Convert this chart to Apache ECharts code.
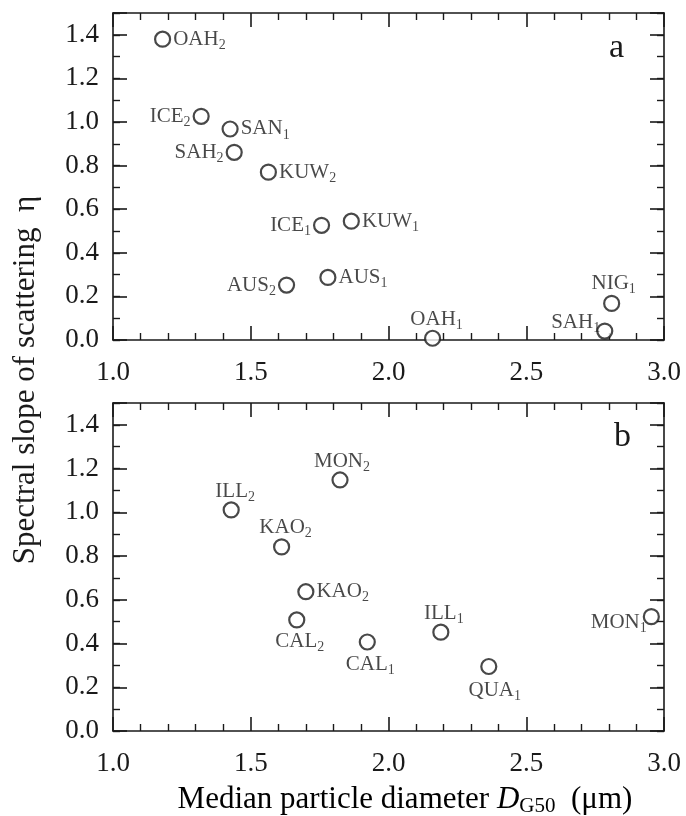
<!DOCTYPE html>
<html>
<head>
<meta charset="utf-8">
<script src="https://cdn.jsdelivr.net/npm/echarts@6/dist/echarts.min.js"></script>
<style>
html,body{margin:0;padding:0;background:#fff;}
#chart{width:686px;height:816px;}
</style>
</head>
<body>
<div id="chart"></div>
<script>
// ---------- data ----------
const xTicks = [1.0, 1.5, 2.0, 2.5, 3.0];
const yTicks = [0.0, 0.2, 0.4, 0.6, 0.8, 1.0, 1.2, 1.4];
const yMax = 1.5;

// panel a
const namesA = ['OAH', 'ICE', 'SAN', 'SAH', 'KUW', 'ICE', 'KUW', 'AUS', 'AUS', 'OAH', 'SAH', 'NIG'];
const subsA  = ['2', '2', '1', '2', '2', '1', '1', '2', '1', '1', '1', '1'];
const xA = [1.18, 1.32, 1.425, 1.44, 1.564, 1.757, 1.865, 1.63, 1.78, 2.16, 2.785, 2.81];
const yA = [1.38, 1.026, 0.968, 0.861, 0.770, 0.526, 0.545, 0.252, 0.287, 0.008, 0.041, 0.168];

// panel b
const namesB = ['MON', 'ILL', 'KAO', 'KAO', 'CAL', 'CAL', 'ILL', 'QUA', 'MON'];
const subsB  = ['2', '2', '2', '2', '2', '1', '1', '1', '1'];
const xB = [1.824, 1.429, 1.612, 1.70, 1.667, 1.923, 2.19, 2.364, 2.954];
const yB = [1.148, 1.011, 0.842, 0.637, 0.508, 0.407, 0.452, 0.295, 0.523];

// ---------- label placement (style) ----------
const placeA = [
  {p:'right', d:2}, {p:'left', d:2}, {p:'right', d:2}, {p:'left', d:2},
  {p:'right', d:2}, {p:'left', d:2}, {p:'right', d:2}, {p:'left', d:2},
  {p:'right', d:2}, {p:'top', d:-3, o:[4,0]}, {p:'left', d:-4, o:[0,-9]}, {p:'top', d:-2, o:[2,0]}
];
const placeB = [
  {p:'top', d:-3, o:[2,0]}, {p:'top', d:-3, o:[4,0]}, {p:'top', d:-2, o:[4,0]}, {p:'right', d:2},
  {p:'bottom', d:0, o:[3,0]}, {p:'bottom', d:1, o:[3,0]}, {p:'top', d:-3, o:[3,0]}, {p:'bottom', d:2, o:[6,0]},
  {p:'left', d:-4, o:[0,6]}
];

// ---------- styles ----------
const FONT = "'Liberation Serif','Times New Roman',serif";
const INK = '#1a1a1a';
const richLbl = {
  n: {fontFamily: FONT, fontSize: 21, color: INK, lineHeight: 26},
  s: {fontFamily: FONT, fontSize: 14, color: INK, lineHeight: 14, verticalAlign: 'bottom'}
};

function buildData(xs, ys, names, subs, place) {
  return xs.map((x, i) => ({
    value: [x, ys[i]],
    label: {
      show: true,
      position: place[i].p,
      distance: place[i].d,
      offset: place[i].o || [0, 0],
      formatter: '{n|' + names[i] + '}{s|' + subs[i] + '}',
      rich: richLbl
    }
  }));
}

const gridsRect = [
  {left: 113, top: 13, width: 551, height: 327},
  {left: 113, top: 403, width: 551, height: 328}
];

const grid = [];
const xAxis = [];
const yAxis = [];
const lineStyle = {color: INK, width: 1.6};

gridsRect.forEach((r, gi) => {
  grid.push(Object.assign({containLabel: false}, r));
  grid.push(Object.assign({containLabel: false}, r));
  const gMaj = 2 * gi, gMin = 2 * gi + 1;
  ['bottom', 'top'].forEach(pos => {
    xAxis.push({
      type: 'value', gridIndex: gMaj, position: pos,
      min: xTicks[0], max: xTicks[xTicks.length - 1], interval: xTicks[1] - xTicks[0],
      axisLine: {show: true, onZero: false, lineStyle},
      axisTick: {show: true, inside: true, length: 14, lineStyle},
      minorTick: {show: true, splitNumber: 5, length: 7, lineStyle: {color: INK, width: 1.4}},
      splitLine: {show: false},
      axisLabel: {
        show: pos === 'bottom', margin: 19, fontFamily: FONT, fontSize: 27, color: INK,
        formatter: v => v.toFixed(1)
      }
    });
    xAxis.push({
      type: 'value', gridIndex: gMin, position: pos, show: false,
      min: xTicks[0], max: xTicks[xTicks.length - 1]
    });
  });
  ['left', 'right'].forEach(pos => {
    yAxis.push({
      type: 'value', gridIndex: gMaj, position: pos,
      min: yTicks[0], max: yMax, interval: yTicks[1] - yTicks[0],
      axisLine: {show: true, onZero: false, lineStyle},
      axisTick: {show: true, inside: true, length: 14, lineStyle},
      splitLine: {show: false},
      axisLabel: {
        show: pos === 'left', margin: 14, fontFamily: FONT, fontSize: 27, color: INK,
        formatter: v => (Math.abs(v - yMax) < 1e-6 ? '' : v.toFixed(1))
      }
    });
    yAxis.push({
      type: 'value', gridIndex: gMin, position: pos,
      min: yTicks[0], max: yMax, interval: (yTicks[1] - yTicks[0]) / 2,
      axisLine: {show: false},
      axisTick: {show: true, inside: true, length: 7, lineStyle: {color: INK, width: 1.4}},
      splitLine: {show: false},
      axisLabel: {show: false}
    });
  });
});

const symbolStyle = {color: '#fff', borderColor: INK, borderWidth: 2.2};

const series = [
  {
    type: 'scatter', xAxisIndex: 0, yAxisIndex: 0,
    symbol: 'circle', symbolSize: 15, itemStyle: symbolStyle,
    data: buildData(xA, yA, namesA, subsA, placeA), z: 5
  },
  {
    type: 'scatter', xAxisIndex: 4, yAxisIndex: 4,
    symbol: 'circle', symbolSize: 15, itemStyle: symbolStyle,
    data: buildData(xB, yB, namesB, subsB, placeB), z: 5
  }
];

const graphic = [
  {type: 'text', left: 609, top: 31, style: {text: 'a', font: '34px ' + FONT, fill: INK}},
  {type: 'text', left: 614, top: 420, style: {text: 'b', font: '34px ' + FONT, fill: INK}},
  {
    type: 'text', x: 26, y: 380, rotation: Math.PI / 2,
    style: {
      text: 'Spectral slope of scattering  η', font: '31px ' + FONT, fill: INK,
      align: 'center', verticalAlign: 'middle'
    }
  },
  {
    type: 'text', x: 405, y: 800,
    style: {
      text: '{t|Median particle diameter }{i|D}{s|G50}{t|  (μm)}',
      align: 'center', verticalAlign: 'middle',
      rich: {
        t: {fontFamily: FONT, fontSize: 31, color: INK, lineHeight: 34},
        i: {fontFamily: FONT, fontSize: 31, fontStyle: 'italic', color: INK, lineHeight: 34},
        s: {fontFamily: FONT, fontSize: 21, color: INK, lineHeight: 20, verticalAlign: 'bottom'}
      }
    }
  }
];

const chart = echarts.init(document.getElementById('chart'), null, {renderer: 'canvas'});
chart.setOption({
  animation: false,
  backgroundColor: '#fff',
  grid, xAxis, yAxis, series, graphic
});
</script>
</body>
</html>
